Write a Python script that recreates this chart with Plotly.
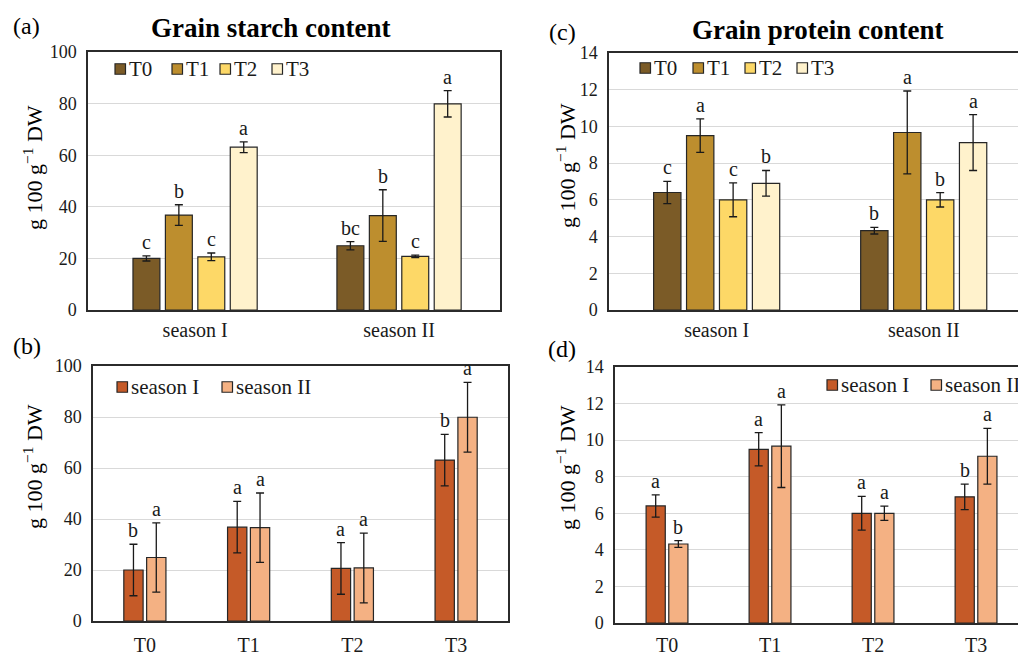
import plotly.graph_objects as go

# ---------------- data ----------------
seasons = ["season I", "season II"]
treatments = ["T0", "T1", "T2", "T3"]

starch_s1 = [20.0, 36.8, 20.6, 63.1]
starch_s2 = [24.9, 36.6, 20.8, 79.9]
starch_err_a_s1 = [1.0, 4.0, 1.5, 2.1]
starch_err_a_s2 = [1.6, 10.0, 0.5, 5.1]
letters_a_s1 = ["c", "b", "c", "a"]
letters_a_s2 = ["bc", "b", "c", "a"]

starch_err_b_s1 = [10.1, 10.1, 10.1, 10.1]
starch_err_b_s2 = [13.6, 13.6, 13.7, 13.7]
letters_b_s1 = ["b", "a", "a", "b"]
letters_b_s2 = ["a", "a", "a", "a"]

protein_s1 = [6.40, 9.50, 6.00, 6.90]
protein_s2 = [4.32, 9.67, 6.00, 9.12]
protein_err_s1 = [0.61, 0.91, 0.92, 0.70]
protein_err_s2 = [0.18, 2.26, 0.39, 1.52]
letters_c_s1 = ["c", "a", "c", "b"]
letters_c_s2 = ["b", "a", "b", "a"]
letters_d_s1 = ["a", "a", "a", "b"]
letters_d_s2 = ["b", "a", "a", "a"]

ytitle = "g 100 g<sup>−1</sup> DW"

# ---------------- style ----------------
# the page body has an 8px margin, so the figure is drawn 8px smaller
PAD = 8
W, H = 1026 - PAD, 657 - PAD
FONT = "Liberation Serif"
treat_colors = ["#7B5B27", "#BD8E2E", "#FDD867", "#FFF2CC"]
season_colors = ["#C55A28", "#F4B183"]
edge = "#262626"
axcol = "#2b2b2b"
gridcol = "#D9D9D9"
txt = "#1a1a1a"


def fx(p):
    return (p - PAD) / W


def fy(p):
    return 1 - (p - PAD) / H


fig = go.Figure()
annotations = []
shapes = []


def err(arr):
    return dict(type="data", array=arr, color="#1a1a1a", thickness=1.3, width=4)


def letter(x, y, s, xref, yref):
    annotations.append(dict(x=x, y=y, text=s, xref=xref, yref=yref, showarrow=False,
                            yanchor="bottom", yshift=1,
                            font=dict(family=FONT, size=20, color=txt)))


# panel (a) starch by season, (c) protein by season
slot4, w4 = 0.159, 0.132
for panel, (v1, v2, e1, e2, l1, l2, xr, yr) in {
    "a": (starch_s1, starch_s2, starch_err_a_s1, starch_err_a_s2, letters_a_s1, letters_a_s2, "x", "y"),
    "c": (protein_s1, protein_s2, protein_err_s1, protein_err_s2, letters_c_s1, letters_c_s2, "x2", "y2"),
}.items():
    for j, t in enumerate(treatments):
        c = (j - 1.5) * slot4
        vals = [v1[j], v2[j]]
        errs = [e1[j], e2[j]]
        fig.add_trace(go.Bar(
            x=seasons, y=vals, width=w4, offset=c - w4 / 2, name=t, showlegend=False,
            marker=dict(color=treat_colors[j], line=dict(color=edge, width=1.2)),
            error_y=err(errs), xaxis=xr, yaxis=yr))
        for i, lab in enumerate([l1[j], l2[j]]):
            letter(i + c, vals[i] + errs[i], lab, xr, yr)

# panel (b) starch by treatment, (d) protein by treatment
slot2, w2 = 0.22, 0.186
for panel, (v1, v2, e1, e2, l1, l2, xr, yr) in {
    "b": (starch_s1, starch_s2, starch_err_b_s1, starch_err_b_s2, letters_b_s1, letters_b_s2, "x3", "y3"),
    "d": (protein_s1, protein_s2, protein_err_s1, protein_err_s2, letters_d_s1, letters_d_s2, "x4", "y4"),
}.items():
    for k, (vals, errs, labs) in enumerate([(v1, e1, l1), (v2, e2, l2)]):
        c = (k - 0.5) * slot2
        fig.add_trace(go.Bar(
            x=treatments, y=vals, width=w2, offset=c - w2 / 2, name=seasons[k], showlegend=False,
            marker=dict(color=season_colors[k], line=dict(color=edge, width=1.2)),
            error_y=err(errs), xaxis=xr, yaxis=yr))
        for i, lab in enumerate(labs):
            letter(i + c, vals[i] + errs[i], lab, xr, yr)


def xax(dom, rng, anchor, size, standoff):
    return dict(domain=dom, range=rng, anchor=anchor, type="category", showline=True,
                mirror=True, linecolor=axcol, linewidth=1.5, ticks="", showgrid=False,
                tickfont=dict(family=FONT, size=size, color=txt), ticklabelstandoff=standoff,
                automargin=False, fixedrange=True)


def yax(dom, rng, dtick, anchor, mirror):
    return dict(domain=dom, range=rng, dtick=dtick, anchor=anchor, showline=True,
                mirror=mirror, linecolor=axcol, linewidth=1.5, ticks="", showgrid=True,
                gridcolor=gridcol, gridwidth=1, zeroline=False,
                tickfont=dict(family=FONT, size=18, color=txt), ticklabelstandoff=6,
                automargin=False, fixedrange=True)


fig.update_layout(
    width=W, height=H, margin=dict(l=0, r=0, t=0, b=0, autoexpand=False),
    paper_bgcolor="white", plot_bgcolor="white",
    barmode="overlay", showlegend=False,
    xaxis=xax([fx(88), fx(500)], [-0.525, 1.495], "y", 20, 1),
    yaxis=yax([fy(310), fy(52)], [0, 100], 20, "x", True),
    xaxis2=xax([fx(609), 1.0], [-0.52, 1.494], "y2", 20, 1),
    yaxis2=yax([fy(310), fy(53)], [0, 14], 2, "x2", False),
    xaxis3=xax([fx(93), fx(508)], [-0.5, 3.5], "y3", 20, 5),
    yaxis3=yax([fy(621), fy(366)], [0, 100], 20, "x3", True),
    xaxis4=xax([fx(615), 1.0], [-0.505, 3.485], "y4", 20, 3),
    yaxis4=yax([fy(623), fy(367)], [0, 14], 2, "x4", False),
)

# custom legends: (swatch left x, centre y, label, colour)
legend_items = [
    (115, 69, treatments[0], treat_colors[0]), (172, 69, treatments[1], treat_colors[1]),
    (220, 69, treatments[2], treat_colors[2]), (272, 69, treatments[3], treat_colors[3]),
    (640, 68, treatments[0], treat_colors[0]), (693, 68, treatments[1], treat_colors[1]),
    (745, 68, treatments[2], treat_colors[2]), (797, 68, treatments[3], treat_colors[3]),
    (117, 387, seasons[0], season_colors[0]), (222, 387, seasons[1], season_colors[1]),
    (827, 385, seasons[0], season_colors[0]), (931, 385, seasons[1], season_colors[1]),
]
sq = 10.5
for x0, yc, lab, col in legend_items:
    shapes.append(dict(type="rect", xref="paper", yref="paper",
                       x0=fx(x0), x1=fx(x0 + sq), y0=fy(yc + sq / 2), y1=fy(yc - sq / 2),
                       fillcolor=col, line=dict(color=edge, width=1.2), layer="above"))
    annotations.append(dict(x=fx(x0 + sq + 1), y=fy(yc), xref="paper", yref="paper", text=lab,
                            showarrow=False, xanchor="left", yanchor="middle",
                            font=dict(family=FONT, size=21, color=txt)))

# titles, panel labels, y-axis titles
for x, y, s in [(270, 28, "<b>Grain starch content</b>"), (818, 30, "<b>Grain protein content</b>")]:
    annotations.append(dict(x=fx(x), y=fy(y), xref="paper", yref="paper", text=s, showarrow=False,
                            xanchor="center", yanchor="middle",
                            font=dict(family=FONT, size=27, color="#000")))
for x, y, s in [(26, 26, "(a)"), (27, 346, "(b)"), (562, 32, "(c)"), (562, 349, "(d)")]:
    annotations.append(dict(x=fx(x), y=fy(y), xref="paper", yref="paper", text=s, showarrow=False,
                            xanchor="center", yanchor="middle",
                            font=dict(family=FONT, size=24, color="#000")))
for x, y in [(33, 168), (33, 467), (566, 166), (566, 468)]:
    annotations.append(dict(x=fx(x), y=fy(y), xref="paper", yref="paper", text=ytitle, showarrow=False,
                            xanchor="center", yanchor="middle", textangle=-90,
                            font=dict(family=FONT, size=22, color="#000")))

fig.update_layout(annotations=annotations, shapes=shapes)
fig.write_html("out.html")
